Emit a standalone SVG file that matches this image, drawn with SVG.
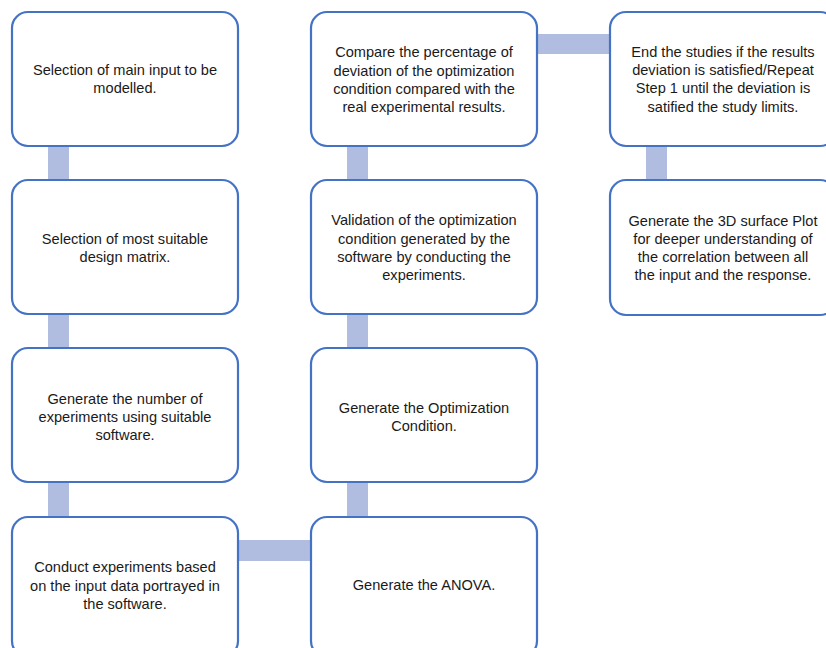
<svg xmlns="http://www.w3.org/2000/svg" width="826" height="648" viewBox="0 0 826 648">
<style>
.box{fill:#fff;stroke:#4472C4;stroke-width:2.2}
.bar{fill:#B0BDE0}
text{font-family:"Liberation Sans",Arial,sans-serif;font-size:14.6px;fill:#1a1a1a;text-anchor:middle}
</style>
<rect width="826" height="648" fill="#fff"/>
<g id="connectors">
<rect class="bar" x="48" y="140" width="21" height="46"/>
<rect class="bar" x="48" y="308" width="21" height="46"/>
<rect class="bar" x="48" y="476" width="21" height="47"/>
<rect class="bar" x="347" y="140" width="21" height="46"/>
<rect class="bar" x="347" y="308" width="21" height="46"/>
<rect class="bar" x="347" y="476" width="21" height="47"/>
<rect class="bar" x="646" y="140" width="21" height="46"/>
<rect class="bar" x="232" y="540" width="85" height="21"/>
<rect class="bar" x="531" y="34" width="85" height="20"/>
</g>
<g id="n1"><rect class="box" x="12" y="12" width="226" height="134" rx="16"/>
<text x="125" y="75">Selection of main input to be</text><text x="125" y="93">modelled.</text></g>
<g id="n2"><rect class="box" x="12" y="180" width="226" height="134" rx="16"/>
<text x="125" y="244">Selection of most suitable</text><text x="125" y="262">design matrix.</text></g>
<g id="n3"><rect class="box" x="12" y="348" width="226" height="134" rx="16"/>
<text x="125" y="404">Generate the number of</text><text x="125" y="422">experiments using suitable</text><text x="125" y="440">software.</text></g>
<g id="n4"><rect class="box" x="12" y="517" width="226" height="140" rx="16"/>
<text x="125" y="572">Conduct experiments based</text><text x="125" y="591">on the input data portrayed in</text><text x="125" y="609">the software.</text></g>
<g id="n5"><rect class="box" x="311" y="517" width="226" height="140" rx="16"/>
<text x="424" y="590">Generate the ANOVA.</text></g>
<g id="n6"><rect class="box" x="311" y="348" width="226" height="134" rx="16"/>
<text x="424" y="413">Generate the Optimization</text><text x="424" y="431">Condition.</text></g>
<g id="n7"><rect class="box" x="311" y="180" width="226" height="134" rx="16"/>
<text x="424" y="225">Validation of the optimization</text><text x="424" y="244">condition generated by the</text><text x="424" y="262">software by conducting the</text><text x="424" y="280">experiments.</text></g>
<g id="n8"><rect class="box" x="311" y="12" width="226" height="134" rx="16"/>
<text x="424" y="57">Compare the percentage of</text><text x="424" y="76">deviation of the optimization</text><text x="424" y="94">condition compared with the</text><text x="424" y="112">real experimental results.</text></g>
<g id="n9"><rect class="box" x="610" y="12" width="226" height="134" rx="16"/>
<text x="723" y="57">End the studies if the results</text><text x="723" y="75">deviation is satisfied/Repeat</text><text x="723" y="93">Step 1 until the deviation is</text><text x="723" y="112">satified the study limits.</text></g>
<g id="n10"><rect class="box" x="610" y="180" width="226" height="135" rx="16"/>
<text x="723" y="226">Generate the 3D surface Plot</text><text x="723" y="244">for deeper understanding of</text><text x="723" y="262">the correlation between all</text><text x="723" y="280">the input and the response.</text></g>
</svg>
